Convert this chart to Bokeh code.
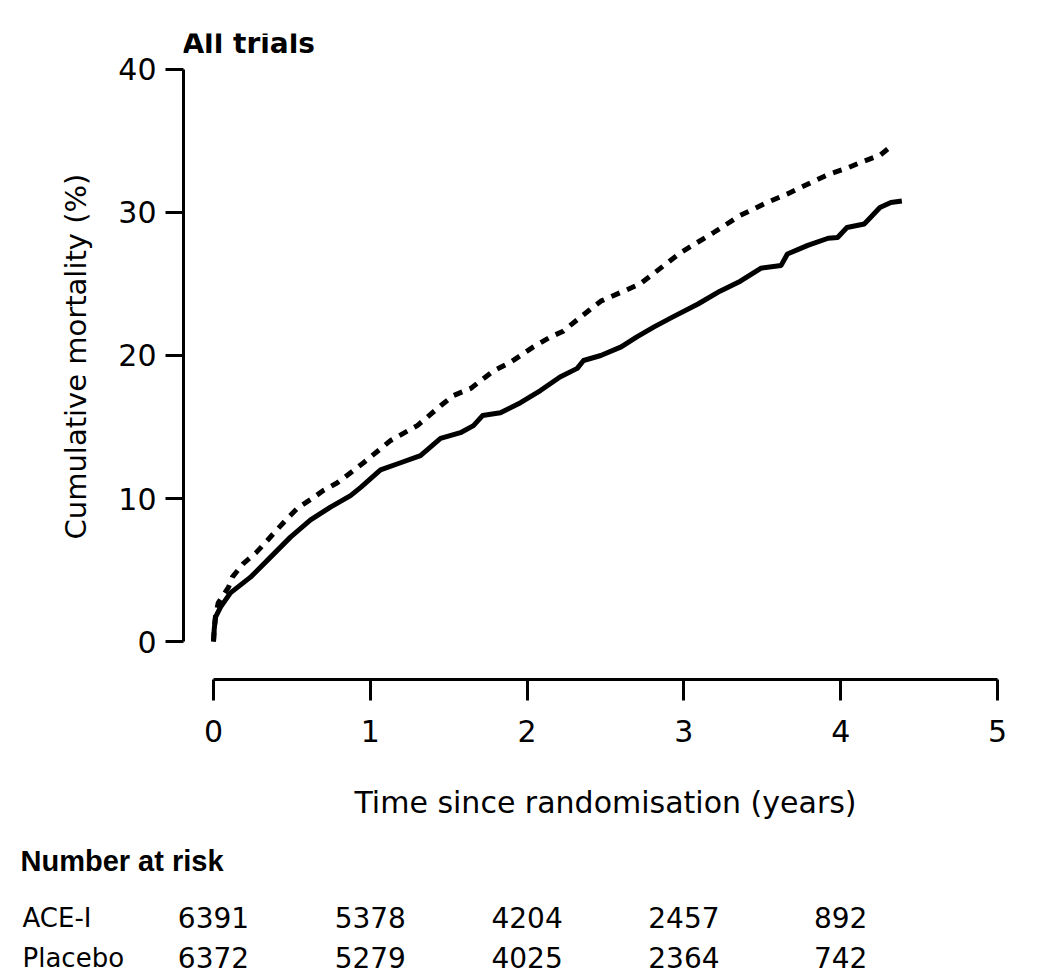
from bokeh.plotting import figure
from bokeh.models import Label, FixedTicker, Range1d
from bokeh.layouts import column, row
from bokeh.core.properties import value
from bokeh.embed import file_html
from bokeh.resources import INLINE

# ---- data ----
ace_t = [0.0, 0.005, 0.013, 0.045, 0.108, 0.236, 0.364, 0.491, 0.619, 0.746, 0.874, 0.941,
         1.065, 1.193, 1.32, 1.448, 1.575, 1.658, 1.716, 1.83, 1.958, 2.085, 2.21, 2.32,
         2.36, 2.47, 2.6, 2.70, 2.81, 2.93, 3.09, 3.23, 3.36, 3.49, 3.62, 3.66, 3.79,
         3.92, 3.98, 4.04, 4.15, 4.19, 4.25, 4.32, 4.39]
ace_m = [0.0, 0.9, 1.7, 2.4, 3.4, 4.5, 5.9, 7.3, 8.5, 9.4, 10.2, 10.8,
         12.0, 12.5, 13.0, 14.2, 14.6, 15.1, 15.8, 16.0, 16.7, 17.55, 18.5, 19.1,
         19.65, 20.0, 20.6, 21.3, 22.0, 22.7, 23.6, 24.5, 25.2, 26.1, 26.3, 27.1, 27.7,
         28.2, 28.25, 28.95, 29.2, 29.65, 30.35, 30.7, 30.8]

pla_t = [0.0, 0.005, 0.013, 0.03, 0.06, 0.096, 0.12, 0.19, 0.27, 0.33, 0.40, 0.47, 0.54,
         0.63, 0.70, 0.79, 0.957, 1.13, 1.30, 1.45, 1.53, 1.64, 1.79, 1.89, 2.04, 2.15,
         2.23, 2.32, 2.40, 2.47, 2.72, 2.98, 3.19, 3.36, 3.53, 3.66, 3.83, 3.93, 4.04,
         4.15, 4.25, 4.33]
pla_m = [0.0, 0.9, 1.8, 2.7, 3.2, 3.8, 4.5, 5.45, 6.2, 6.9, 7.76, 8.6, 9.37,
         10.0, 10.56, 11.1, 12.5, 14.06, 15.1, 16.5, 17.2, 17.7, 18.95, 19.5, 20.6, 21.3,
         21.7, 22.5, 23.2, 23.8, 25.0, 27.2, 28.6, 29.8, 30.7, 31.3, 32.2, 32.7, 33.1,
         33.6, 34.0, 34.7]

x_ticks = [0, 1, 2, 3, 4, 5]
y_ticks = [0, 10, 20, 30, 40]
risk_years = [0, 1, 2, 3, 4]
risk_ace = ["6391", "5378", "4204", "2457", "892"]
risk_placebo = ["6372", "5279", "4025", "2364", "742"]
row_names = ["ACE-I", "Placebo"]

FONT = "DejaVu Sans"

# ---------------- main plot ----------------
p = figure(width=1038, height=830, output_backend="svg", toolbar_location=None,
           x_range=Range1d(-0.1913, 5.1913), y_range=Range1d(-2.657, 42.517),
           min_border_left=183, min_border_right=11, min_border_top=33,
           min_border_bottom=151)
p.outline_line_color = None
p.grid.visible = False
p.background_fill_color = "white"
p.border_fill_color = "white"

p.line(ace_t, ace_m, line_color="black", line_width=5, line_join="round")
p.line(pla_t, pla_m, line_color="black", line_width=5, line_dash="9 8")

xa = p.xaxis[0]
xa.ticker = FixedTicker(ticks=x_ticks)
xa.bounds = (0, 5)
xa.axis_line_width = 3
xa.major_tick_line_width = 3
xa.major_tick_out = 21
xa.major_tick_in = 0
xa.minor_tick_line_color = None
xa.major_label_standoff = 19
xa.major_label_text_font = FONT
xa.major_label_text_font_size = "30px"
xa.major_label_text_color = "black"
xa.axis_label = "Time since randomisation (years)"
xa.axis_label_text_font = FONT
xa.axis_label_text_font_size = "30px"
xa.axis_label_text_font_style = "normal"
xa.axis_label_text_color = "black"
xa.axis_label_standoff = 40

ya = p.yaxis[0]
ya.ticker = FixedTicker(ticks=y_ticks)
ya.bounds = (0, 40)
ya.axis_line_width = 3
ya.major_tick_line_width = 3
ya.major_tick_out = 18
ya.major_tick_in = 0
ya.minor_tick_line_color = None
ya.major_label_standoff = 9
ya.major_label_text_font = FONT
ya.major_label_text_font_size = "30px"
ya.major_label_text_color = "black"
ya.axis_label = "Cumulative mortality (%)"
ya.axis_label_text_font = FONT
ya.axis_label_text_font_size = "29px"
ya.axis_label_text_font_style = "normal"
ya.axis_label_text_color = "black"
ya.axis_label_standoff = 22

p.add_layout(Label(x=-0.198, y=41.82, text="All trials", text_font=FONT,
                   text_font_size="28px", text_font_style="bold",
                   text_baseline="middle", text_align="left", text_color="black"))

# ---------------- number-at-risk table ----------------
t = figure(width=1038, height=146, output_backend="svg", toolbar_location=None,
           x_range=Range1d(-1.3584, 5.2615), y_range=Range1d(976, 830),
           min_border_left=0, min_border_right=0, min_border_top=0, min_border_bottom=0)
t.axis.visible = False
t.grid.visible = False
t.outline_line_color = None
t.background_fill_color = "white"
t.border_fill_color = "white"

t.text(x=[-1.231], y=[860], text=["Number at risk"], text_font=value("Liberation Sans"),
       text_font_size=value("29px"), text_font_style="bold", text_color="black",
       text_align="left", text_baseline="middle")
row_y = [917, 957]
t.text(x=[-1.218] * 2, y=row_y, text=row_names, text_font=value(FONT),
       text_font_size=value("26px"), text_color="black",
       text_align="left", text_baseline="middle")
for vals, yy in zip([risk_ace, risk_placebo], row_y):
    t.text(x=risk_years, y=[yy] * len(risk_years), text=vals, text_font=value(FONT),
           text_font_size=value("28px"), text_color="black",
           text_align="center", text_baseline="middle")

layout = column(p, row(t), spacing=0)
open("out.html", "w").write(file_html(layout, INLINE))
